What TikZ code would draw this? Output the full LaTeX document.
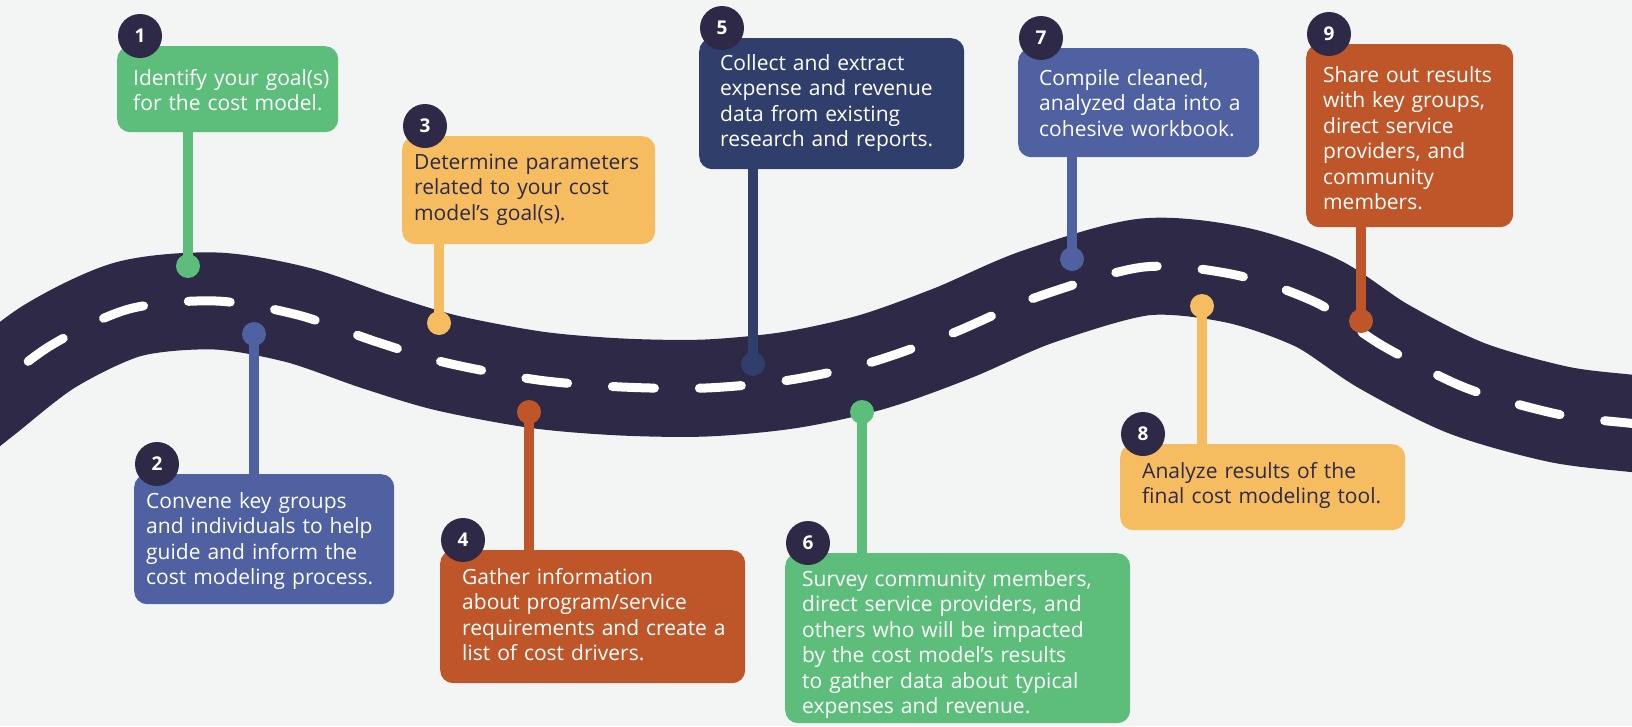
\documentclass[tikz,border=0pt]{standalone}
\usepackage{fontspec}
\setmainfont{Open Sans}
\usetikzlibrary{calc,positioning}
\definecolor{paper}{RGB}{243,245,244}
\definecolor{roadnavy}{RGB}{45,41,70}
\definecolor{stepgreen}{RGB}{93,190,123}
\definecolor{stepblue}{RGB}{79,97,161}
\definecolor{stepnavy}{RGB}{48,62,108}
\definecolor{stepyellow}{RGB}{246,189,96}
\definecolor{steprust}{RGB}{190,86,41}
\def\roadline{plot[smooth] coordinates {(-60,432) (-16,397) (50,346) (129,309) (216,301) (298,315) (377,342) (447,363) (538,380) (622,387) (706,388) (790,380) (872,362) (953,333) (1037,297) (1144,267) (1236,275) (1317,303) (1383,346) (1466,388) (1557,414) (1628,423) (1690,428)}}

\begin{document}
\begin{tikzpicture}[x=1pt,y=-1pt,
  stepbox/.style={fill=#1, rounded corners=13pt, anchor=north west, inner sep=0pt},
  steptext/.style={anchor=north west, inner sep=0pt, text width=330pt, align=left, text=white,
    font=\fontsize{21}{25.5}\selectfont},
  badge/.style={circle, fill=roadnavy, minimum size=44pt, inner sep=0pt, text=white,
    font=\fontsize{19}{19}\selectfont\bfseries},
  pin/.style={circle, fill=#1, minimum size=24pt, inner sep=0pt},
  stem/.style={draw=#1, line width=10pt},
  road/.style={draw=roadnavy, line width=97pt},
  lane/.style={draw=white, line width=9pt, line cap=round, dash pattern=on 42pt off 45pt, dash phase=61pt}]
  \fill[paper] (0,0) rectangle (1632,726);
  \useasboundingbox (0,0) rectangle (1632,726);

  \draw[road] \roadline;
  \draw[lane] \roadline;

  \node[stepbox=stepgreen, minimum width=221pt, minimum height=86pt] (s1) at (117,46) {};
  \node[stepbox=stepblue, minimum width=260pt, minimum height=130pt] (s2) at (134,474) {};
  \node[stepbox=stepyellow, minimum width=253pt, minimum height=108pt] (s3) at (402,136) {};
  \node[stepbox=steprust, minimum width=305pt, minimum height=133pt] (s4) at (440,550) {};
  \node[stepbox=stepnavy, minimum width=265pt, minimum height=131pt] (s5) at (699,38) {};
  \node[stepbox=stepgreen, minimum width=345pt, minimum height=170pt] (s6) at (785,553) {};
  \node[stepbox=stepblue, minimum width=241pt, minimum height=109pt] (s7) at (1018,48) {};
  \node[stepbox=stepyellow, minimum width=285pt, minimum height=86pt] (s8) at (1120,444) {};
  \node[stepbox=steprust, minimum width=207pt, minimum height=183pt] (s9) at (1306,44) {};

  \node[steptext, text height=39pt] (t1) at ($(s1.north west)+(16,0)$)
    {Identify your goal(s)\\for the cost model.};
  \node[steptext, text height=34pt] (t2) at ($(s2.north west)+(12,0)$)
    {Convene key groups\\and individuals to help\\guide and inform the\\cost modeling process.};
  \node[steptext, text=roadnavy, text height=33pt] (t3) at ($(s3.north west)+(12,0)$)
    {Determine parameters\\related to your cost\\model’s goal(s).};
  \node[steptext, text height=34pt] (t4) at ($(s4.north west)+(22,0)$)
    {Gather information\\about program/service\\requirements and create a\\list of cost drivers.};
  \node[steptext, text height=32pt] (t5) at ($(s5.north west)+(21,0)$)
    {Collect and extract\\expense and revenue\\data from existing\\research and reports.};
  \node[steptext, text height=33pt] (t6) at ($(s6.north west)+(17,0)$)
    {Survey community members,\\direct service providers, and\\others who will be impacted\\by the cost model’s results\\to gather data about typical\\expenses and revenue.};
  \node[steptext, text height=37pt] (t7) at ($(s7.north west)+(21,0)$)
    {Compile cleaned,\\analyzed data into a\\cohesive workbook.};
  \node[steptext, text=roadnavy, text height=34pt] (t8) at ($(s8.north west)+(22,0)$)
    {Analyze results of the\\final cost modeling tool.};
  \node[steptext, text height=38pt] (t9) at ($(s9.north west)+(17,0)$)
    {Share out results\\with key groups,\\direct service\\providers, and\\community\\members.};

  \node[pin=stepgreen] (d1) at (188,266) {};
  \node[pin=stepblue] (d2) at (254,334) {};
  \node[pin=stepyellow] (d3) at (439,323) {};
  \node[pin=steprust] (d4) at (529,412) {};
  \node[pin=stepnavy] (d5) at (753,364) {};
  \node[pin=stepgreen] (d6) at (862,412) {};
  \node[pin=stepblue] (d7) at (1072,259) {};
  \node[pin=stepyellow] (d8) at (1202,306) {};
  \node[pin=steprust] (d9) at (1361,321) {};

  \draw[stem=stepgreen] (d1.center) -- (d1 |- s1.south);
  \draw[stem=stepblue] (d2.center) -- (d2 |- s2.north);
  \draw[stem=stepyellow] (d3.center) -- (d3 |- s3.south);
  \draw[stem=steprust] (d4.center) -- (d4 |- s4.north);
  \draw[stem=stepnavy] (d5.center) -- (d5 |- s5.south);
  \draw[stem=stepgreen] (d6.center) -- (d6 |- s6.north);
  \draw[stem=stepblue] (d7.center) -- (d7 |- s7.south);
  \draw[stem=stepyellow] (d8.center) -- (d8 |- s8.north);
  \draw[stem=steprust] (d9.center) -- (d9 |- s9.south);

  \foreach \i in {1,...,9}
    \node[badge] (b\i) at ($(s\i.north west)+(23,-10)$) {\i};
\end{tikzpicture}
\end{document}
